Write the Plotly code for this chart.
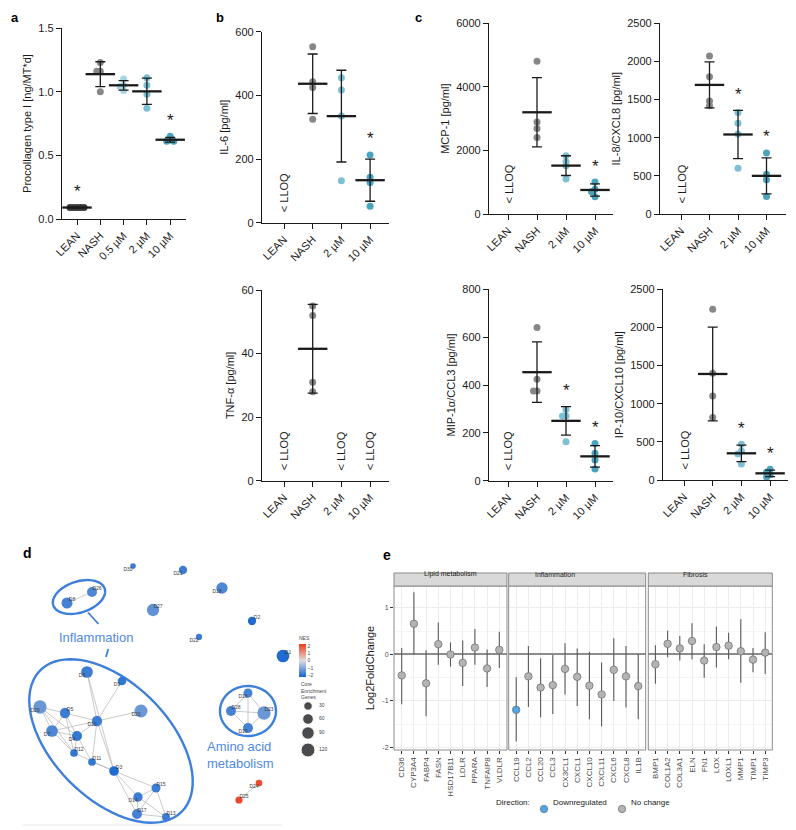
import numpy as np
import plotly.graph_objects as go

W, H = 796, 830
OFF = 8  # page body margin of the browser, compensated so positions match the target
FONT = "Liberation Sans, Arial, Helvetica, sans-serif"


def px(x):
    return (x - OFF) / W


def py(y):
    return 1 - (y - OFF) / H


# ------------------------------------------------------------------ data
# panel a : procollagen type I
a_groups = ["LEAN", "NASH", "0.5 µM", "2 µM", "10 µM"]
a_lean = [0.09, 0.09, 0.09, 0.09, 0.09]
a_nash = [1.23, 1.16, 1.16, 1.00]
a_05 = [1.10, 1.05, 1.04, 1.01]
a_2 = [1.11, 1.05, 0.98, 0.87]
a_10 = [0.65, 0.62, 0.61, 0.61]
a_star = [True, False, False, False, True]

# panels b / c : cytokines (None = below LLOQ)
bc_groups = ["LEAN", "NASH", "2 µM", "10 µM"]
il6_nash = [553, 443, 425, 325]
il6_2 = [455, 417, 335, 132]
il6_10 = [213, 143, 126, 52]
il6_star = [False, False, False, True]

tnf_nash = [55, 52, 31, 28]
tnf_star = [False, False, False, False]

mcp_nash = [4804, 2898, 2690, 2408]
mcp_2 = [1831, 1643, 1517, 1099]
mcp_10 = [1005, 776, 700, 543]
mcp_star = [False, False, False, True]

il8_nash = [2070, 1800, 1480, 1420]
il8_2 = [1330, 1190, 1050, 600]
il8_10 = [800, 520, 450, 230]
il8_star = [False, False, True, True]

mip_nash = [640, 424, 375, 375]
mip_2 = [298, 270, 270, 163]
mip_10 = [156, 115, 87, 49]
mip_star = [False, False, True, True]

ip10_nash = [2240, 1400, 1100, 820]
ip10_2 = [470, 380, 340, 210]
ip10_10 = [140, 100, 70, 40]
ip10_star = [False, False, True, True]

# panel d : enrichment network
node_names = ["D30", "D21", "D18", "D8", "D26", "D27", "D2", "D22", "D1", "D6",
              "D9", "D29", "D5", "D10", "D20", "D7", "D4", "D12", "D11", "D3",
              "D15", "D14", "D17", "D13", "D16", "D28", "D23", "D19", "D24", "D25"]
node_x = [133, 183, 222, 67, 92, 153, 252, 199, 283, 87,
          122, 40, 65, 97, 141, 52, 77, 74, 92, 114,
          156, 138, 137, 166, 248, 231, 264, 248, 259, 239]
node_y = [566, 570, 588, 603, 592, 610, 621, 637, 656, 672,
          681, 707, 713, 721, 711, 731, 736, 753, 762, 771,
          788, 797, 814, 817, 693, 711, 713, 728, 783, 800]
node_genes = [7, 28, 69, 64, 49, 86, 28, 11, 94, 76,
              32, 106, 53, 53, 100, 76, 49, 22, 22, 45,
              36, 40, 49, 25, 36, 49, 106, 49, 14, 18]
node_nes = [-1.8, -1.8, -1.6, -1.7, -1.6, -1.4, -2.1, -1.8, -2.1, -1.8,
            -1.9, -1.3, -1.8, -1.8, -1.3, -1.6, -1.9, -1.9, -1.9, -2.1,
            -1.8, -1.8, -1.7, -1.8, -1.7, -1.7, -1.3, -1.7, 2.0, 2.1]
edges = [("D8", "D26"), ("D24", "D25"),
         ("D16", "D28"), ("D16", "D23"), ("D16", "D19"), ("D28", "D19"),
         ("D23", "D19"), ("D28", "D23"),
         ("D6", "D10"), ("D9", "D10"), ("D20", "D10"), ("D29", "D5"), ("D29", "D7"),
         ("D29", "D4"), ("D29", "D12"), ("D5", "D10"), ("D5", "D7"), ("D5", "D4"),
         ("D5", "D12"), ("D7", "D10"), ("D7", "D4"), ("D7", "D12"), ("D4", "D10"),
         ("D4", "D12"), ("D4", "D11"), ("D10", "D11"), ("D10", "D3"), ("D12", "D3"),
         ("D11", "D3"), ("D6", "D3"), ("D3", "D15"), ("D3", "D14"), ("D3", "D17"),
         ("D15", "D14"), ("D15", "D17"), ("D15", "D13"), ("D14", "D17"),
         ("D14", "D13"), ("D17", "D13")]
legend_genes = [30, 60, 90, 120]
nes_ticks = [-2, -1, 0, 1, 2]

# panel e : log2 fold change with intervals
lipid_genes = ["CD36", "CYP3A4", "FABP4", "FASN", "HSD17B11", "LDLR", "PPARA", "TNFAIP8", "VLDLR"]
lipid_lfc = [-0.45, 0.66, -0.62, 0.22, 0.0, -0.18, 0.15, -0.30, 0.10]
lipid_lo = [-1.07, 0.0, -1.33, -0.22, -0.26, -0.68, -0.22, -0.70, -0.29]
lipid_hi = [0.14, 1.34, 0.09, 0.69, 0.26, 0.30, 0.55, 0.11, 0.49]
lipid_dir = ["No change", "No change", "No change", "No change", "No change",
             "No change", "No change", "No change", "No change"]

infl_genes = ["CCL19", "CCL2", "CCL20", "CCL3", "CX3CL1", "CXCL1", "CXCL10", "CXCL11", "CXCL6", "CXCL8", "IL1B"]
infl_lfc = [-1.19, -0.47, -0.71, -0.66, -0.31, -0.48, -0.67, -0.86, -0.33, -0.47, -0.68]
infl_lo = [-1.87, -1.13, -1.35, -1.28, -0.86, -1.11, -1.39, -1.55, -1.00, -1.14, -1.39]
infl_hi = [-0.49, 0.18, -0.08, -0.01, 0.24, 0.13, 0.06, -0.17, 0.35, 0.18, 0.01]
infl_dir = ["Downregulated", "No change", "No change", "No change", "No change", "No change",
            "No change", "No change", "No change", "No change", "No change"]

fib_genes = ["BMP1", "COL1A2", "COL3A1", "ELN", "FN1", "LOX", "LOXL1", "MMP1", "TIMP1", "TIMP3"]
fib_lfc = [-0.21, 0.23, 0.13, 0.29, -0.13, 0.16, 0.19, 0.07, -0.11, 0.04]
fib_lo = [-0.63, -0.06, -0.13, -0.10, -0.50, -0.28, -0.10, -0.61, -0.38, -0.42]
fib_hi = [0.20, 0.51, 0.40, 0.67, 0.22, 0.60, 0.47, 0.76, 0.14, 0.48]
fib_dir = ["No change", "No change", "No change", "No change", "No change",
           "No change", "No change", "No change", "No change", "No change"]

# ------------------------------------------------------------------ styles
GRAY = "#878787"
C05, C2, C10 = "#a8d5e2", "#7dc0d4", "#4aa3bf"
INK = "#1a1a1a"

fig = go.Figure()
axes = {}
annotations = []
shapes = []


def swarm(vals, ppu_x, ppu_y, step=3.5):
    placed, out = [], []
    for v in vals:
        yv = v * ppu_y
        dx = 0.0
        for k in (0, -1, 1, -2, 2, -3, 3, -4, 4):
            dx = k * step
            if all((dx - a) ** 2 + (yv - b) ** 2 >= step ** 2 for a, b in placed):
                break
        placed.append((dx, yv))
        out.append(dx / ppu_x)
    return out


def axnames(n):
    s = "" if n == 1 else str(n)
    return "xaxis" + s, "yaxis" + s, "x" + s, "y" + s


def dot_panel(n, groups, series, colors, stars, ymax, dtick, ytitle, box, tickfmt=None, msize=7):
    xa, xe, fc, sp, yt, yz = box
    xname, yname, xr, yr = axnames(n)
    ng = len(groups)
    lo = -(fc - xa) / sp
    hi = (ng - 1) + (xe - (fc + sp * (ng - 1))) / sp
    ppu_y = (yz - yt) / ymax
    common = dict(showline=True, linecolor=INK, linewidth=1.3, ticks="outside", ticklen=5,
                  tickwidth=1.2, tickcolor=INK, showgrid=False, zeroline=False, automargin=False,
                  tickfont=dict(size=11, color=INK, family=FONT), fixedrange=True)
    axes[xname] = dict(domain=[px(xa), px(xe)], range=[lo, hi], anchor=yr, tickmode="array",
                       tickvals=list(range(ng)), ticktext=groups, tickangle=-45, **common)
    axes[yname] = dict(domain=[py(yz), py(yt)], range=[0, ymax], anchor=xr, dtick=dtick, tick0=0,
                       tickformat=tickfmt, title=dict(text=ytitle, font=dict(size=11, color=INK), standoff=4),
                       **common)
    for i, vals in enumerate(series):
        if vals is None:
            annotations.append(dict(x=i, y=0, xref=xr, yref=yr, text="&lt; LLOQ", textangle=-90,
                                    showarrow=False, yanchor="bottom", yshift=8,
                                    font=dict(size=11, color=INK)))
            continue
        v = np.array(vals, float)
        m, s = v.mean(), v.std(ddof=1)
        offs = np.array(swarm(v, sp, ppu_y))
        fig.add_trace(go.Scatter(x=i + offs, y=v, mode="markers", xaxis=xr, yaxis=yr,
                                 marker=dict(size=msize, color=colors[i], line=dict(width=0)),
                                 cliponaxis=False, showlegend=False, hoverinfo="skip"))
        fig.add_trace(go.Scatter(x=[i], y=[m], mode="markers", xaxis=xr, yaxis=yr,
                                 marker=dict(symbol="line-ew", size=21, color=INK,
                                             line=dict(width=2.3, color=INK)),
                                 error_y=dict(type="data", array=[s], color=INK, thickness=1.3, width=5),
                                 cliponaxis=False, showlegend=False, hoverinfo="skip"))
        if stars[i]:
            top = max(v.max(), m + s)
            annotations.append(dict(x=i, y=top, xref=xr, yref=yr, text="*", showarrow=False,
                                    yanchor="middle", yshift=16, font=dict(size=17, color=INK)))


# panel a
dot_panel(1, a_groups, [a_lean, a_nash, a_05, a_2, a_10], ["#3a3a3a", GRAY, C05, C2, C10], a_star,
          1.5, 0.5, "Procollagen type I [ng/MT*d]", (62, 186, 77, 23.3, 28, 219), tickfmt=".1f")
# panel b
bcol = [GRAY, GRAY, C2, C10]
dot_panel(2, bc_groups, [None, il6_nash, il6_2, il6_10], bcol, il6_star, 600, 200, "IL-6 [pg/ml]",
          (262, 389, 284, 28.7, 31.7, 222.7))
dot_panel(3, bc_groups, [None, tnf_nash, None, None], bcol, tnf_star, 60, 20, "TNF-α [pg/ml]",
          (262, 389, 284, 28.7, 290, 480.7))
# panel c
dot_panel(4, bc_groups, [None, mcp_nash, mcp_2, mcp_10], bcol, mcp_star, 6000, 2000, "MCP-1 [pg/ml]",
          (489, 613, 508, 29, 23.3, 214))
dot_panel(5, bc_groups, [None, il8_nash, il8_2, il8_10], bcol, il8_star, 2500, 500, "IL-8/CXCL8 [pg/ml]",
          (660, 786, 681, 28.5, 23.3, 214))
dot_panel(6, bc_groups, [None, mip_nash, mip_2, mip_10], bcol, mip_star, 800, 200, "MIP-1α/CCL3 [pg/ml]",
          (489, 613, 508, 29, 289.3, 480.7))
dot_panel(7, bc_groups, [None, ip10_nash, ip10_2, ip10_10], bcol, ip10_star, 2500, 500, "IP-10/CXCL10 [pg/ml]",
          (663, 789, 684, 28.7, 289.3, 480))

# ------------------------------------------------------------------ panel d (1 axis unit = 1 px)
xname, yname, xr, yr = axnames(8)
axes[xname] = dict(domain=[0, px(380)], range=[OFF, 380], anchor=yr, visible=False, fixedrange=True,
                   automargin=False)
axes[yname] = dict(domain=[0, py(490)], range=[H + OFF, 490], anchor=xr, visible=False, fixedrange=True,
                   automargin=False)


def gene_diam(g):
    return 3 + np.sqrt(np.asarray(g, float))


pos = {nm: (x, y) for nm, x, y in zip(node_names, node_x, node_y)}
ex, ey = [], []
for a, b in edges:
    ex += [pos[a][0], pos[b][0], None]
    ey += [pos[a][1], pos[b][1], None]
fig.add_trace(go.Scatter(x=ex, y=ey, mode="lines", xaxis=xr, yaxis=yr,
                         line=dict(color="#bdbdbd", width=0.8), showlegend=False, hoverinfo="skip"))

ELL = "#3d7fd9"


def ellipse_path(cx, cy, a, b, ang, n=80):
    t = np.linspace(0, 2 * np.pi, n)
    th = np.deg2rad(ang)
    xs = cx + a * np.cos(t) * np.cos(th) - b * np.sin(t) * np.sin(th)
    ys = cy + a * np.cos(t) * np.sin(th) + b * np.sin(t) * np.cos(th)
    return "M " + " L ".join(f"{x:.2f},{y:.2f}" for x, y in zip(xs, ys)) + " Z"


shapes.append(dict(type="path", xref=xr, yref=yr, path=ellipse_path(111, 741, 100, 58, 45),
                   line=dict(color=ELL, width=2.4), layer="below"))
shapes.append(dict(type="path", xref=xr, yref=yr, path=ellipse_path(79, 597, 27, 15.5, -18),
                   line=dict(color=ELL, width=2.4), layer="below"))
shapes.append(dict(type="path", xref=xr, yref=yr, path=ellipse_path(248, 711, 28, 25, 0),
                   line=dict(color=ELL, width=2.4), layer="below"))
shapes.append(dict(type="line", xref=xr, yref=yr, x0=88, y0=612.5, x1=98.5, y1=624,
                   line=dict(color=ELL, width=1.8)))
shapes.append(dict(type="line", xref=xr, yref=yr, x0=108.3, y0=649, x1=106, y1=657,
                   line=dict(color=ELL, width=1.8)))
shapes.append(dict(type="line", xref=xr, yref=yr, x0=23, y0=825, x1=282, y1=825,
                   line=dict(color="#e6e6e6", width=1)))

fig.add_trace(go.Scatter(
    x=node_x, y=node_y, mode="markers", xaxis=xr, yaxis=yr, showlegend=False, hoverinfo="skip",
    marker=dict(size=gene_diam(node_genes), color=node_nes, cmin=-2.25, cmax=2.25,
                colorscale=[[0, "#1464cf"], [0.5, "#dedede"], [1, "#f03a1c"]],
                line=dict(width=0), opacity=1,
                colorbar=dict(x=px(299), xanchor="left", y=py(655), yanchor="middle", len=44,
                              lenmode="pixels", thickness=7, thicknessmode="pixels",
                              tickvals=nes_ticks, ticktext=["−2", "−1", "0", "1", "2"],
                              tickfont=dict(size=5, color="#444"), ticks="", outlinewidth=0,
                              xpad=0, ypad=0,
                              title=dict(text="NES", side="top", font=dict(size=5, color="#444"))))))

UP_RIGHT = {"D8", "D26", "D27", "D2", "D1", "D5", "D12", "D11", "D3", "D15", "D17", "D13",
            "D28", "D23", "D25"}
lx = [x + (5 if nm in UP_RIGHT else -5) for nm, x in zip(node_names, node_x)]
ly = [y + (-3 if nm in UP_RIGHT else 4) for nm, y in zip(node_names, node_y)]
fig.add_trace(go.Scatter(x=lx, y=ly, mode="text", text=node_names, xaxis=xr, yaxis=yr,
                         textfont=dict(size=5, color="#3a3a3a"), showlegend=False, hoverinfo="skip"))

annotations.append(dict(x=96, y=637, xref=xr, yref=yr, text="Inflammation", showarrow=False,
                        font=dict(size=13, color="#4f8ade")))
annotations.append(dict(x=240, y=755, xref=xr, yref=yr, text="Amino acid<br>metabolism", showarrow=False,
                        font=dict(size=13, color="#4f8ade"), align="left"))
annotations.append(dict(x=299, y=690, xref=xr, yref=yr, text="Core<br>Enrichment<br>Genes", showarrow=False,
                        xanchor="left", align="left", font=dict(size=5, color="#444")))
leg_y = [706, 719, 733, 750]
fig.add_trace(go.Scatter(x=[308] * 4, y=leg_y, mode="markers", xaxis=xr, yaxis=yr,
                         marker=dict(size=gene_diam(legend_genes), color="black"),
                         showlegend=False, hoverinfo="skip"))
fig.add_trace(go.Scatter(x=[319] * 4, y=leg_y, mode="text", text=[str(g) for g in legend_genes],
                         textposition="middle right", xaxis=xr, yaxis=yr,
                         textfont=dict(size=5, color="#444"), showlegend=False, hoverinfo="skip"))

# ------------------------------------------------------------------ panel e
YR = [-2.054, 1.473]
DIRCOL = {"Downregulated": "#4ea8e8", "No change": "#b4b4b4"}
facets = [("Lipid metabolism", lipid_genes, lipid_lfc, lipid_lo, lipid_hi, lipid_dir, 394, 507),
          ("Inflammation", infl_genes, infl_lfc, infl_lo, infl_hi, infl_dir, 508.7, 645.7),
          ("Fibrosis", fib_genes, fib_lfc, fib_lo, fib_hi, fib_dir, 648.3, 772.3)]
for k, (name, genes, lfc, lo, hi, dirs, x0, x1) in enumerate(facets):
    n = 9 + k
    xname, yname, xr, yr = axnames(n)
    ng = len(genes)
    pad = ((x1 - x0) / 12.2 - (ng - 1)) / 2
    axes[xname] = dict(domain=[px(x0), px(x1)], range=[-pad, ng - 1 + pad], anchor=yr,
                       tickmode="array", tickvals=list(range(ng)), ticktext=genes, tickangle=-90,
                       ticks="outside", ticklen=3, tickcolor="#333", tickwidth=0.8,
                       tickfont=dict(size=8, color="#4d4d4d"), showgrid=True, gridcolor="#ececec",
                       gridwidth=0.8, zeroline=False, showline=False, fixedrange=True, automargin=False)
    yd = dict(domain=[py(750), py(586)], range=YR, anchor=xr, tickmode="array",
              tickvals=[-2, -1, 0, 1], ticktext=["-2", "-1", "0", "1"], showgrid=True,
              gridcolor="#ececec", gridwidth=0.8,
              minor=dict(tickvals=[-1.5, -0.5, 0.5], showgrid=True, gridcolor="#f5f5f5", gridwidth=0.5),
              zeroline=True, zerolinecolor="#8c8c8c", zerolinewidth=1.5, showline=False,
              fixedrange=True, automargin=False)
    if k == 0:
        yd.update(ticks="outside", ticklen=3, tickcolor="#333", tickwidth=0.8,
                  tickfont=dict(size=7, color="#4d4d4d"),
                  title=dict(text="Log2FoldChange", font=dict(size=11, color=INK), standoff=5))
    else:
        yd.update(showticklabels=False, ticks="")
    axes[yname] = yd
    lfc_a = np.array(lfc)
    fig.add_trace(go.Scatter(
        x=list(range(ng)), y=lfc, mode="markers", xaxis=xr, yaxis=yr, showlegend=False, hoverinfo="skip",
        marker=dict(size=7.5, color=[DIRCOL[d] for d in dirs], line=dict(color="#6a6a6a", width=0.7)),
        error_y=dict(type="data", symmetric=False, array=list(np.array(hi) - lfc_a),
                     arrayminus=list(lfc_a - np.array(lo)), color="#5a5a5a", thickness=1.1, width=0)))
    shapes.append(dict(type="rect", xref=xr + " domain", yref=yr + " domain", x0=0, x1=1, y0=0, y1=1,
                       line=dict(color="#808080", width=0.9), layer="above"))
    shapes.append(dict(type="rect", xref=xr + " domain", yref="paper", x0=0, x1=1, y0=py(586), y1=py(573),
                       line=dict(color="#808080", width=0.9), fillcolor="#d9d9d9", layer="above"))
    annotations.append(dict(x=(px(x0) + px(x1)) / 2, y=py(579.5), xref="paper", yref="paper", text=name,
                            showarrow=False, font=dict(size=7, color="#1a1a1a")))

# legend of panel e
annotations.append(dict(x=px(494), y=py(809), xref="paper", yref="paper", text="Direction:", xanchor="left",
                        showarrow=False, font=dict(size=8, color="#1a1a1a")))
for cx, lab, col in [(544, "Downregulated", DIRCOL["Downregulated"]), (622, "No change", DIRCOL["No change"])]:
    shapes.append(dict(type="circle", xref="paper", yref="paper", x0=px(cx - 3.7), x1=px(cx + 3.7),
                       y0=py(809 + 3.7), y1=py(809 - 3.7), fillcolor=col, line=dict(color="#6a6a6a", width=0.7)))
    annotations.append(dict(x=px(cx + 7), y=py(809), xref="paper", yref="paper", text=lab, xanchor="left",
                            showarrow=False, font=dict(size=8, color="#1a1a1a")))

# panel letters (kept inside the drawable area)
for lab, x, y in [("a", 9, 8.5), ("b", 214, 8.5), ("c", 413, 8.5)]:
    annotations.append(dict(x=px(x), y=py(y), xref="paper", yref="paper", text=f"<b>{lab}</b>",
                            xanchor="left", yanchor="top", showarrow=False,
                            font=dict(size=13, color="black")))
for lab, x, y in [("d", 21, 553), ("e", 381, 555)]:
    annotations.append(dict(x=px(x), y=py(y), xref="paper", yref="paper", text=f"<b>{lab}</b>",
                            xanchor="left", yanchor="middle", showarrow=False,
                            font=dict(size=14, color="black")))

fig.update_layout(width=W, height=H, margin=dict(l=0, r=0, t=0, b=0, autoexpand=False),
                  paper_bgcolor="white", plot_bgcolor="rgba(0,0,0,0)", showlegend=False,
                  font=dict(family=FONT, color=INK), annotations=annotations, shapes=shapes, **axes)
fig.write_html("out.html")
